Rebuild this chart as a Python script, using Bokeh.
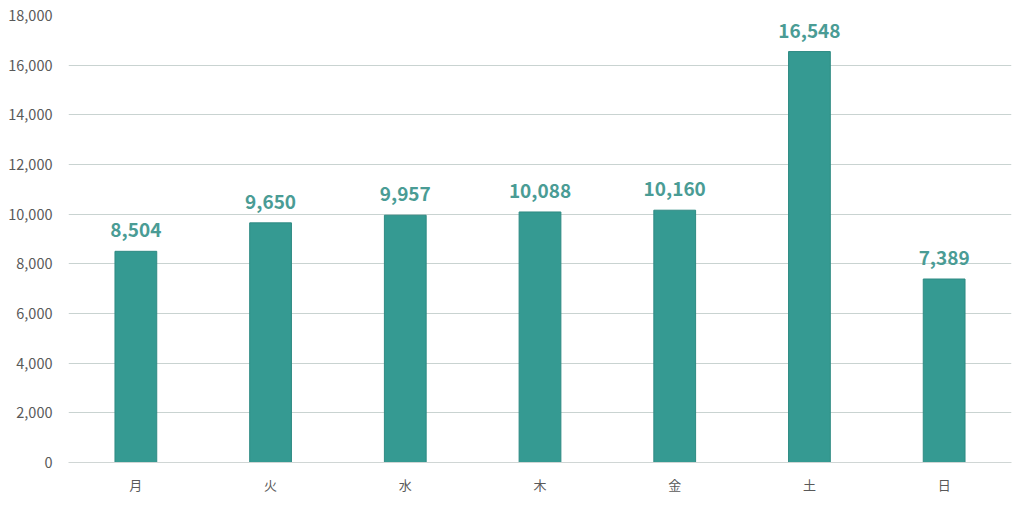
from bokeh.plotting import figure
from bokeh.models import ColumnDataSource, Range1d, NumeralTickFormatter, FixedTicker
from bokeh.embed import file_html
from bokeh.resources import INLINE
from bokeh.core.properties import value

days = ["月", "火", "水", "木", "金", "土", "日"]
counts = [8504, 9650, 9957, 10088, 10160, 16548, 7389]
labels = [f"{v:,}" for v in counts]
y_ticks = list(range(0, 18001, 2000))

src = ColumnDataSource(dict(day=days, count=counts, label=labels))

p = figure(x_range=days, y_range=Range1d(0, 18000), width=1016, height=505,
           output_backend="svg", toolbar_location=None,
           min_border_left=68, min_border_right=5, min_border_top=15, min_border_bottom=43)
p.outline_line_color = None
p.background_fill_color = "white"

p.vbar(x="day", top="count", width=0.31, source=src,
       fill_color="#359a92", line_color="#2e8a83", line_width=1)
p.text(x="day", y="count", text="label", source=src,
       text_align="center", text_baseline="bottom", y_offset=-14,
       text_font=value("Noto Sans CJK JP"), text_font_style="bold",
       text_font_size="19px", text_color="#4a9c95")

p.yaxis.ticker = FixedTicker(ticks=y_ticks)
p.yaxis.formatter = NumeralTickFormatter(format="0,0")
p.yaxis.axis_line_color = None
p.yaxis.major_tick_line_color = None
p.yaxis.minor_tick_line_color = None
p.yaxis.major_label_text_font = "Noto Sans CJK JP"
p.yaxis.major_label_text_font_size = "14.5px"
p.yaxis.major_label_text_color = "#595959"
p.yaxis.major_label_standoff = 10

p.xaxis.axis_line_color = "#d0d6d5"
p.xaxis.major_tick_line_color = None
p.xaxis.minor_tick_line_color = None
p.xaxis.major_label_text_font = "Noto Sans CJK JP"
p.xaxis.major_label_text_font_size = "13px"
p.xaxis.major_label_text_color = "#595959"
p.xaxis.major_label_standoff = 6

p.xgrid.grid_line_color = None
p.ygrid.grid_line_color = "#c9d3d1"
p.ygrid.grid_line_width = 1

open("out.html", "w").write(file_html(p, INLINE))
